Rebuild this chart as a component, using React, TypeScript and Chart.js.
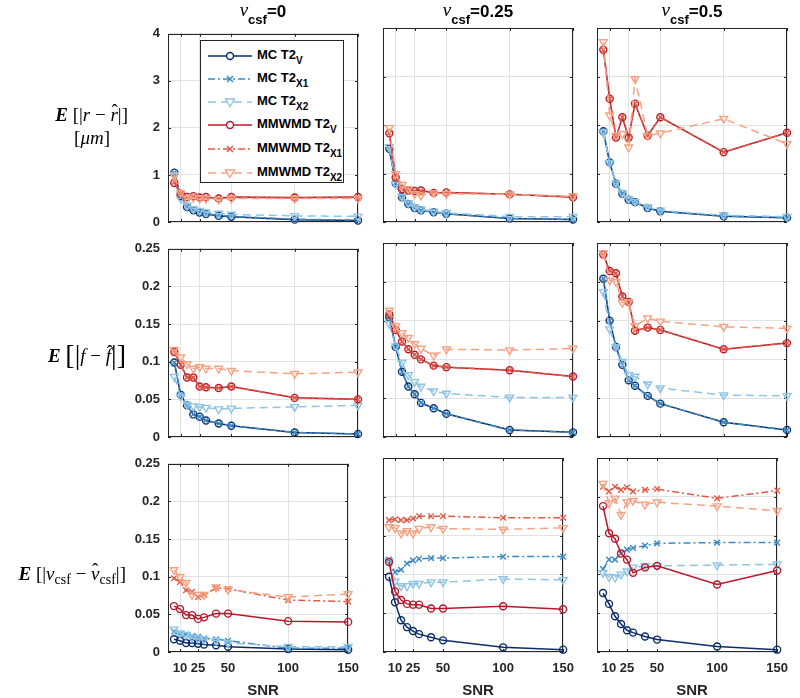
import React, { useEffect, useRef } from 'react';
import { Chart, registerables } from 'chart.js';

Chart.register(...registerables);

// ---------------- data ----------------
const SNR = [5, 10, 15, 20, 25, 30, 40, 50, 100, 150];
const X_TICKS = [10, 25, 50, 100, 150];
const Y_TICKS_R = [0, 1, 2, 3, 4];
const Y_TICKS_F = [0, 0.05, 0.1, 0.15, 0.2, 0.25];
const Y_TICKS_V = [0, 0.05, 0.1, 0.15, 0.2, 0.25];
const NU_VALUES = ['0', '0.25', '0.5'];
const SERIES_NAMES = ['MC T2|V', 'MC T2|X1', 'MC T2|X2', 'MMWMD T2|V', 'MMWMD T2|X1', 'MMWMD T2|X2'];

// order in every panel: MC T2V, MC T2X1, MC T2X2, MMWMD T2V, MMWMD T2X1, MMWMD T2X2
// E[|r - r^|]
const ERR_R_NU0: number[][] = [
  [1.05, 0.55, 0.32, 0.25, 0.2, 0.17, 0.13, 0.11, 0.05, 0.03],
  [1.05, 0.55, 0.33, 0.26, 0.21, 0.18, 0.14, 0.12, 0.06, 0.04],
  [1.0, 0.5, 0.35, 0.28, 0.24, 0.21, 0.18, 0.16, 0.13, 0.12],
  [0.83, 0.6, 0.53, 0.55, 0.52, 0.53, 0.5, 0.53, 0.52, 0.53],
  [0.85, 0.6, 0.52, 0.55, 0.52, 0.52, 0.5, 0.52, 0.51, 0.52],
  [0.97, 0.62, 0.5, 0.52, 0.5, 0.5, 0.48, 0.5, 0.5, 0.5],
];
const ERR_R_NU025: number[][] = [
  [1.51, 0.8, 0.51, 0.37, 0.29, 0.24, 0.2, 0.17, 0.07, 0.05],
  [1.51, 0.8, 0.51, 0.37, 0.29, 0.24, 0.2, 0.17, 0.07, 0.05],
  [1.55, 0.78, 0.52, 0.39, 0.31, 0.26, 0.22, 0.19, 0.11, 0.11],
  [1.83, 0.92, 0.68, 0.65, 0.64, 0.65, 0.6, 0.61, 0.57, 0.51],
  [1.83, 0.92, 0.68, 0.65, 0.63, 0.64, 0.6, 0.61, 0.57, 0.52],
  [1.94, 0.99, 0.77, 0.68, 0.58, 0.55, 0.6, 0.58, 0.57, 0.53],
];
const ERR_R_NU05: number[][] = [
  [1.87, 1.23, 0.79, 0.58, 0.46, 0.41, 0.29, 0.22, 0.12, 0.09],
  [1.87, 1.23, 0.79, 0.58, 0.46, 0.41, 0.29, 0.22, 0.12, 0.09],
  [1.85, 1.22, 0.8, 0.6, 0.48, 0.42, 0.31, 0.24, 0.14, 0.11],
  [3.55, 2.54, 1.74, 2.16, 1.74, 2.44, 1.78, 2.16, 1.44, 1.84],
  [3.55, 2.54, 1.74, 2.16, 1.74, 2.44, 1.78, 2.16, 1.44, 1.84],
  [3.71, 2.2, 1.78, 1.82, 1.54, 2.95, 1.78, 1.83, 2.13, 1.61],
];
// E[|f - f^|]
const ERR_F_NU0: number[][] = [
  [0.099, 0.056, 0.042, 0.03, 0.027, 0.022, 0.018, 0.015, 0.006, 0.004],
  [0.099, 0.056, 0.042, 0.03, 0.027, 0.022, 0.018, 0.015, 0.006, 0.004],
  [0.08, 0.054, 0.043, 0.041, 0.04, 0.039, 0.037, 0.038, 0.04, 0.042],
  [0.113, 0.096, 0.079, 0.079, 0.067, 0.066, 0.065, 0.067, 0.052, 0.05],
  [0.113, 0.096, 0.079, 0.079, 0.067, 0.066, 0.065, 0.067, 0.052, 0.05],
  [0.116, 0.106, 0.097, 0.091, 0.093, 0.091, 0.091, 0.088, 0.084, 0.086],
];
const ERR_F_NU025: number[][] = [
  [0.154, 0.116, 0.084, 0.065, 0.055, 0.044, 0.037, 0.03, 0.009, 0.006],
  [0.154, 0.116, 0.084, 0.065, 0.055, 0.044, 0.037, 0.03, 0.009, 0.006],
  [0.146, 0.117, 0.096, 0.08, 0.071, 0.065, 0.059, 0.056, 0.051, 0.051],
  [0.158, 0.138, 0.123, 0.113, 0.106, 0.1, 0.092, 0.09, 0.086, 0.078],
  [0.158, 0.138, 0.123, 0.113, 0.106, 0.1, 0.092, 0.09, 0.086, 0.078],
  [0.163, 0.143, 0.134, 0.128, 0.12, 0.114, 0.105, 0.113, 0.112, 0.114],
];
const ERR_F_NU05: number[][] = [
  [0.204, 0.15, 0.116, 0.093, 0.073, 0.066, 0.053, 0.043, 0.019, 0.009],
  [0.204, 0.15, 0.116, 0.093, 0.073, 0.066, 0.053, 0.043, 0.019, 0.009],
  [0.187, 0.139, 0.116, 0.097, 0.08, 0.078, 0.068, 0.063, 0.054, 0.053],
  [0.235, 0.214, 0.211, 0.181, 0.174, 0.137, 0.141, 0.138, 0.113, 0.121],
  [0.235, 0.214, 0.211, 0.181, 0.174, 0.137, 0.141, 0.138, 0.113, 0.121],
  [0.237, 0.202, 0.2, 0.173, 0.174, 0.143, 0.153, 0.149, 0.142, 0.14],
];
// E[|nu_csf - nu^_csf|]
const ERR_V_NU0: number[][] = [
  [0.017, 0.015, 0.012, 0.012, 0.011, 0.01, 0.009, 0.007, 0.004, 0.003],
  [0.027, 0.024, 0.023, 0.021, 0.02, 0.018, 0.017, 0.015, 0.005, 0.005],
  [0.03, 0.025, 0.023, 0.019, 0.018, 0.017, 0.015, 0.012, 0.007, 0.007],
  [0.061, 0.057, 0.049, 0.049, 0.044, 0.046, 0.051, 0.051, 0.041, 0.04],
  [0.098, 0.093, 0.082, 0.08, 0.073, 0.076, 0.085, 0.084, 0.069, 0.067],
  [0.109, 0.1, 0.092, 0.076, 0.076, 0.076, 0.086, 0.083, 0.073, 0.077],
];
const ERR_V_NU025: number[][] = [
  [0.097, 0.064, 0.041, 0.032, 0.027, 0.023, 0.019, 0.015, 0.006, 0.003],
  [0.119, 0.103, 0.106, 0.114, 0.118, 0.12, 0.121, 0.121, 0.123, 0.123],
  [0.117, 0.091, 0.085, 0.085, 0.088, 0.088, 0.09, 0.09, 0.094, 0.093],
  [0.116, 0.078, 0.067, 0.062, 0.061, 0.061, 0.056, 0.056, 0.059, 0.055],
  [0.17, 0.171, 0.17, 0.17, 0.172, 0.175, 0.175, 0.175, 0.173, 0.173],
  [0.161, 0.16, 0.153, 0.156, 0.153, 0.159, 0.161, 0.159, 0.158, 0.16],
];
const ERR_V_NU05: number[][] = [
  [0.076, 0.062, 0.046, 0.036, 0.028, 0.025, 0.02, 0.016, 0.007, 0.003],
  [0.107, 0.119, 0.119, 0.127, 0.132, 0.134, 0.137, 0.14, 0.141, 0.141],
  [0.102, 0.097, 0.096, 0.1, 0.104, 0.109, 0.111, 0.111, 0.112, 0.113],
  [0.188, 0.153, 0.146, 0.127, 0.119, 0.102, 0.109, 0.111, 0.087, 0.105],
  [0.213, 0.207, 0.213, 0.209, 0.212, 0.207, 0.209, 0.21, 0.198, 0.208],
  [0.217, 0.192, 0.198, 0.177, 0.193, 0.195, 0.19, 0.193, 0.188, 0.182],
];

// ---------------- styles ----------------
const FONT = '"Liberation Sans", Arial, Helvetica, sans-serif';
const SERIF = '"Liberation Serif", "Times New Roman", serif';
const AXIS_COLOR = '#262626';

type Style = { color: string; dash: number[]; point: string; rot: number; r: number };
const STYLES: Style[] = [
  { color: '#0c2d6b', dash: [], point: 'circle', rot: 0, r: 3.5 },
  { color: '#3b8ac4', dash: [7, 3, 2, 3], point: 'crossRot', rot: 0, r: 4 },
  { color: '#8ec4e4', dash: [8, 5], point: 'triangle', rot: 180, r: 4.5 },
  { color: '#b8182c', dash: [], point: 'circle', rot: 0, r: 3.5 },
  { color: '#df5b47', dash: [7, 3, 2, 3], point: 'crossRot', rot: 0, r: 4 },
  { color: '#f5a283', dash: [8, 5], point: 'triangle', rot: 180, r: 4.5 },
];

const COL_LEFT = [168, 383, 597];
const ROW_TOP = [28, 243, 458];
const PLOT_W = 190;
const PLOT_H = 194;
const PAD_L = 60;
const PAD_T = 10;
const PAD_R = 10;
const PAD_B = 30;

const boxPlugin = {
  id: 'boxTicks',
  beforeDatasetsDraw(chart: any) {
    const { ctx, chartArea: a, scales } = chart;
    ctx.save();
    ctx.strokeStyle = AXIS_COLOR;
    ctx.lineWidth = 1;
    ctx.strokeRect(Math.round(a.left) + 0.5, Math.round(a.top) + 0.5, Math.round(a.right - a.left) - 1, Math.round(a.bottom - a.top) - 1);
    const tl = 3;
    ctx.beginPath();
    for (const t of scales.x.ticks) {
      const px = Math.round(scales.x.getPixelForValue(t.value)) + 0.5;
      ctx.moveTo(px, a.bottom);
      ctx.lineTo(px, a.bottom - tl);
      ctx.moveTo(px, a.top);
      ctx.lineTo(px, a.top + tl);
    }
    for (const t of scales.y.ticks) {
      const py = Math.round(scales.y.getPixelForValue(t.value)) + 0.5;
      ctx.moveTo(a.left, py);
      ctx.lineTo(a.left + tl, py);
      ctx.moveTo(a.right, py);
      ctx.lineTo(a.right - tl, py);
    }
    ctx.stroke();
    ctx.restore();
  },
};

type PanelProps = {
  left: number;
  top: number;
  series: number[][];
  yTicks: number[];
  showX: boolean;
  showY: boolean;
};

function Panel({ left, top, series, yTicks, showX, showY }: PanelProps) {
  const ref = useRef<HTMLCanvasElement>(null);
  const W = PAD_L + PLOT_W + PAD_R;
  const H = PAD_T + PLOT_H + PAD_B;
  useEffect(() => {
    const chart = new Chart(ref.current as HTMLCanvasElement, {
      type: 'line',
      data: {
        datasets: series.map((vals, i) => ({
          label: SERIES_NAMES[i],
          data: SNR.map((x, j) => ({ x, y: vals[j] })),
          borderColor: STYLES[i].color,
          borderWidth: 1.5,
          borderDash: STYLES[i].dash,
          pointStyle: STYLES[i].point as any,
          rotation: STYLES[i].rot,
          pointRotation: STYLES[i].rot,
          pointRadius: STYLES[i].r,
          pointBorderColor: STYLES[i].color,
          pointBackgroundColor: 'rgba(0,0,0,0)',
          pointBorderWidth: 1.4,
          fill: false,
          tension: 0,
          clip: false as any,
          order: 10 - i,
        })),
      },
      options: {
        responsive: false,
        animation: false,
        devicePixelRatio: 1,
        events: [],
        layout: { padding: { left: 0, top: PAD_T, right: PAD_R, bottom: 0 } },
        plugins: { legend: { display: false }, tooltip: { enabled: false } },
        scales: {
          x: {
            type: 'linear',
            min: 0,
            max: 150,
            afterBuildTicks: (s: any) => {
              s.ticks = X_TICKS.map((v) => ({ value: v }));
            },
            afterFit: (s: any) => {
              s.height = PAD_B;
            },
            ticks: {
              display: showX,
              padding: 9,
              maxRotation: 0,
              autoSkip: false,
              color: AXIS_COLOR,
              font: { family: FONT, size: 13, weight: 'bold' },
              callback: (v: any) => String(v),
            },
            grid: { color: '#e2e2e2', drawTicks: false, lineWidth: 1 },
            border: { display: false },
          },
          y: {
            type: 'linear',
            min: yTicks[0],
            max: yTicks[yTicks.length - 1],
            afterBuildTicks: (s: any) => {
              s.ticks = yTicks.map((v) => ({ value: v }));
            },
            afterFit: (s: any) => {
              s.width = PAD_L;
            },
            ticks: {
              display: showY,
              padding: 8,
              color: AXIS_COLOR,
              font: { family: FONT, size: 13, weight: 'bold' },
              callback: (v: any) => String(v),
            },
            grid: { color: '#e2e2e2', drawTicks: false, lineWidth: 1 },
            border: { display: false },
          },
        },
      } as any,
      plugins: [boxPlugin],
    });
    return () => chart.destroy();
  }, []);
  return (
    <canvas
      ref={ref}
      width={W}
      height={H}
      style={{ position: 'absolute', left: left - PAD_L, top: top - PAD_T, width: W, height: H }}
    />
  );
}

function Marker({ s }: { s: Style }) {
  const cx = 22;
  const cy = 8;
  if (s.point === 'circle')
    return <circle cx={cx} cy={cy} r={3.5} fill="white" stroke={s.color} strokeWidth={1.4} />;
  if (s.point === 'crossRot')
    return (
      <g stroke={s.color} strokeWidth={1.5}>
        <line x1={cx - 3} y1={cy - 3} x2={cx + 3} y2={cy + 3} />
        <line x1={cx - 3} y1={cy + 3} x2={cx + 3} y2={cy - 3} />
      </g>
    );
  return (
    <polygon
      points={`${cx - 4.5},${cy - 3} ${cx + 4.5},${cy - 3} ${cx},${cy + 4.5}`}
      fill="white"
      stroke={s.color}
      strokeWidth={1.4}
    />
  );
}

function Legend() {
  const ys = [55, 78, 101, 124, 148, 172];
  return (
    <div
      style={{
        position: 'absolute',
        left: 200,
        top: 40,
        width: 144,
        height: 143,
        border: `1px solid ${AXIS_COLOR}`,
        background: 'white',
        boxSizing: 'border-box',
      }}
    >
      {SERIES_NAMES.map((name, i) => {
        const [main, sub] = name.split('|');
        const s = STYLES[i];
        return (
          <div key={i} style={{ position: 'absolute', left: 7, top: ys[i] - 40 - 9, height: 18, whiteSpace: 'nowrap' }}>
            <svg width={44} height={16} style={{ position: 'absolute', left: 0, top: 1 }}>
              <line
                x1={0}
                y1={8}
                x2={44}
                y2={8}
                stroke={s.color}
                strokeWidth={1.5}
                strokeDasharray={s.dash.length ? s.dash.join(',') : undefined}
              />
              <Marker s={s} />
            </svg>
            <span
              style={{
                position: 'absolute',
                left: 49,
                top: 0,
                font: `bold 13px ${FONT}`,
                lineHeight: '16px',
                color: '#000',
              }}
            >
              {main}
              <span style={{ fontSize: 10, position: 'relative', top: 5 }}>{sub}</span>
            </span>
          </div>
        );
      })}
    </div>
  );
}

function ColTitle({ nu, center }: { nu: string; center: number }) {
  return (
    <div
      style={{
        position: 'absolute',
        left: center - 80,
        width: 160,
        top: 0,
        height: 24,
        textAlign: 'center',
        whiteSpace: 'nowrap',
        color: '#000',
      }}
    >
      <span style={{ fontFamily: SERIF, fontStyle: 'italic', fontSize: 19, position: 'relative', top: -1 }}>ν</span>
      <span style={{ font: `bold 13px ${FONT}`, position: 'relative', top: 7 }}>csf</span>
      <span style={{ font: `bold 17px ${FONT}`, lineHeight: '20px' }}>={nu}</span>
    </div>
  );
}

function Hat({ ch }: { ch: string }) {
  return (
    <span style={{ position: 'relative', display: 'inline-block' }}>
      <i>{ch}</i>
      <span style={{ position: 'absolute', left: 1, top: -4, fontStyle: 'normal' }}>ˆ</span>
    </span>
  );
}

const mathStyle: React.CSSProperties = {
  position: 'absolute',
  fontFamily: SERIF,
  fontSize: 19,
  color: '#000',
  whiteSpace: 'nowrap',
  textAlign: 'right',
};

const subStyle: React.CSSProperties = { fontSize: 14, position: 'relative', top: 4 };

export default function App() {
  const rows = [
    { data: [ERR_R_NU0, ERR_R_NU025, ERR_R_NU05], ticks: Y_TICKS_R },
    { data: [ERR_F_NU0, ERR_F_NU025, ERR_F_NU05], ticks: Y_TICKS_F },
    { data: [ERR_V_NU0, ERR_V_NU025, ERR_V_NU05], ticks: Y_TICKS_V },
  ];
  return (
    <div style={{ position: 'absolute', left: 0, top: 0, width: 800, height: 698, background: 'white', overflow: 'hidden' }}>
      {rows.map((row, ri) =>
        row.data.map((series, ci) => (
          <Panel
            key={`${ri}-${ci}`}
            left={COL_LEFT[ci]}
            top={ROW_TOP[ri]}
            series={series}
            yTicks={row.ticks}
            showX={ri === 2}
            showY={ci === 0}
          />
        ))
      )}
      <Legend />
      {NU_VALUES.map((nu, ci) => (
        <ColTitle key={ci} nu={nu} center={COL_LEFT[ci] + PLOT_W / 2} />
      ))}
      {COL_LEFT.map((l, ci) => (
        <div
          key={ci}
          style={{
            position: 'absolute',
            left: l,
            width: PLOT_W,
            top: 681,
            textAlign: 'center',
            font: `bold 15px ${FONT}`,
            color: AXIS_COLOR,
          }}
        >
          SNR
        </div>
      ))}
      {/* row labels */}
      <div style={{ ...mathStyle, left: 0, width: 128, top: 104 }}>
        <b><i>E</i></b> [|<i>r</i> − <Hat ch="r" />|]
      </div>
      <div style={{ ...mathStyle, left: 0, width: 110, top: 127 }}>
        [<i>μm</i>]
      </div>
      <div style={{ ...mathStyle, left: 0, width: 126, top: 337 }}>
        <b><i>E</i></b> <span style={{ fontSize: 28, position: 'relative', top: 2 }}>[|</span>
        <i>f</i> − <Hat ch="f" />
        <span style={{ fontSize: 28, position: 'relative', top: 2 }}>|]</span>
      </div>
      <div style={{ ...mathStyle, left: 0, width: 126, top: 563 }}>
        <b><i>E</i></b> [|<i>ν</i>
        <span style={subStyle}>csf</span> − <Hat ch="ν" />
        <span style={subStyle}>csf</span>|]
      </div>
    </div>
  );
}
